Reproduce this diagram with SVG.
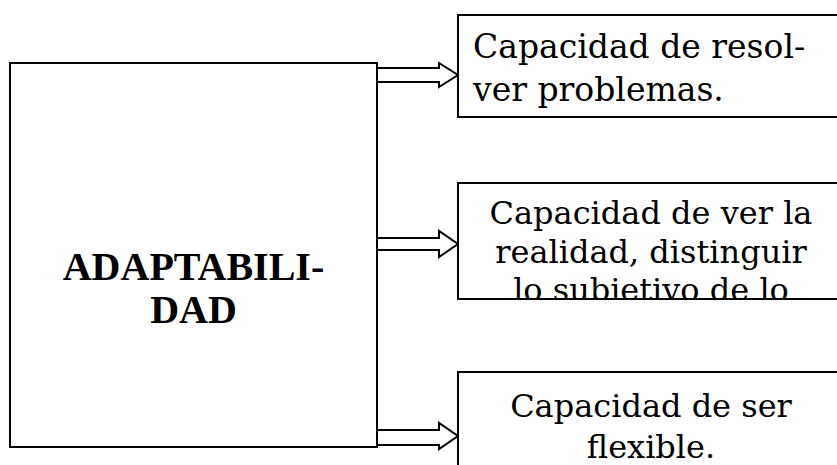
<svg xmlns="http://www.w3.org/2000/svg" width="837" height="465" viewBox="0 0 837 465">
<style>
.box{fill:#fff;stroke:#000;stroke-width:2}
.arrow{fill:#fff;stroke:#000;stroke-width:2;stroke-linejoin:miter}
.t{font-family:"DejaVu Serif","Liberation Serif",serif;font-size:32px;fill:#000}
.t1{font-size:33px}
.c{text-anchor:middle}
.m{font-family:"Liberation Serif","Times New Roman",serif;font-size:40px;font-weight:bold;fill:#000;text-anchor:middle}
</style>
<defs>
<clipPath id="c2"><rect x="458" y="183" width="400" height="116"/></clipPath>
</defs>
<rect width="837" height="465" fill="#fff"/>
<g id="connectors">
<polygon class="arrow" points="377,68 439,68 439,63 458,75 439,87 439,82 377,82"/>
<polygon class="arrow" points="377,238 439,238 439,231 458,244 439,257 439,250 377,250"/>
<polygon class="arrow" points="377,430 439,430 439,423 458,436 439,449 439,445 377,445"/>
</g>
<g id="main">
<rect class="box" x="10" y="63" width="367" height="384"/>
<text class="m" x="193.5" y="280">ADAPTABILI-</text>
<text class="m" x="193.5" y="323">DAD</text>
</g>
<g id="n1">
<rect class="box" x="458" y="15" width="400" height="102"/>
<text class="t t1" x="473" y="58">Capacidad de resol-</text>
<text class="t t1" x="473" y="101">ver problemas.</text>
</g>
<g id="n2">
<rect class="box" x="458" y="183" width="400" height="116"/>
<g clip-path="url(#c2)">
<text class="t c" x="651" y="224">Capacidad de ver la</text>
<text class="t c" x="651" y="263">realidad, distinguir</text>
<text class="t c" x="651" y="301">lo subjetivo de lo</text>
</g>
</g>
<g id="n3">
<rect class="box" x="458" y="372" width="400" height="120"/>
<text class="t c" x="651" y="417">Capacidad de ser</text>
<text class="t c" x="651" y="458">flexible.</text>
</g>
</svg>
